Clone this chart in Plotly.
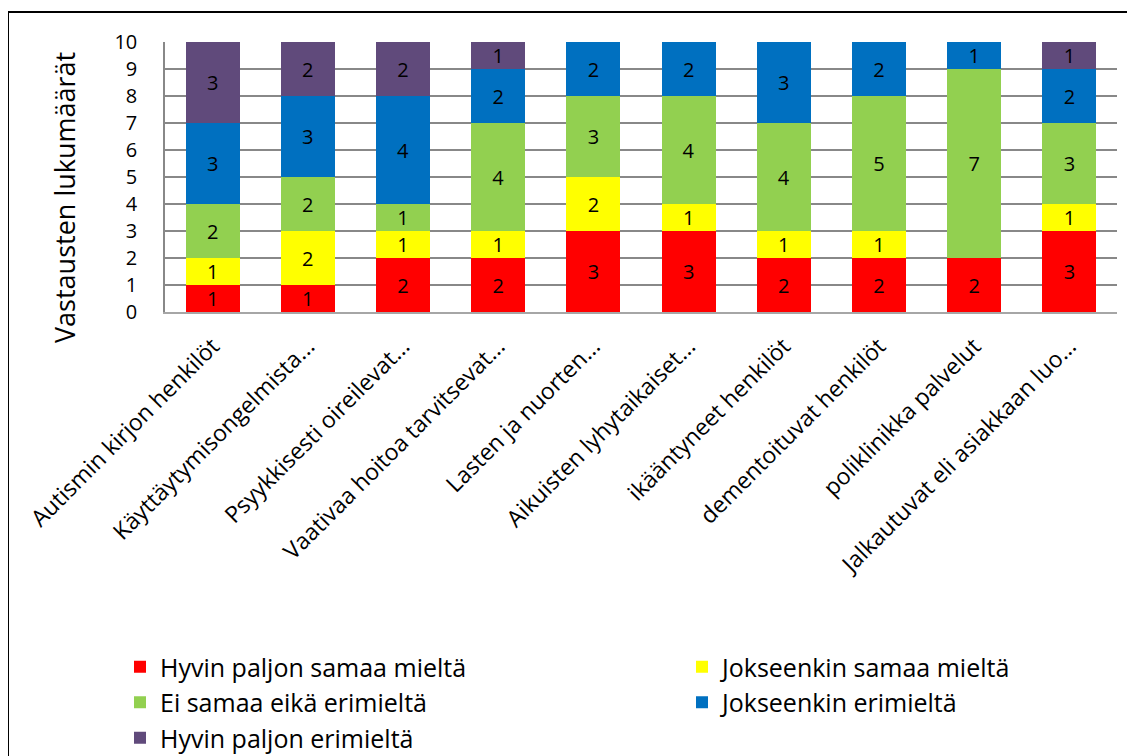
import plotly.graph_objects as go

categories = [
    "Autismin kirjon henkilöt",
    "Käyttäytymisongelmista...",
    "Psyykkisesti oireilevat...",
    "Vaativaa hoitoa tarvitsevat...",
    "Lasten ja nuorten...",
    "Aikuisten lyhytaikaiset...",
    "ikääntyneet henkilöt",
    "dementoituvat henkilöt",
    "poliklinikka palvelut",
    "Jalkautuvat eli asiakkaan luo...",
]

hyvin_samaa = [1, 1, 2, 2, 3, 3, 2, 2, 2, 3]
jokseenkin_samaa = [1, 2, 1, 1, 2, 1, 1, 1, 0, 1]
ei_samaa_eika_eri = [2, 2, 1, 4, 3, 4, 4, 5, 7, 3]
jokseenkin_eri = [3, 3, 4, 2, 2, 2, 3, 2, 1, 2]
hyvin_eri = [3, 2, 2, 1, 0, 0, 0, 0, 0, 1]

series = [
    ("Hyvin paljon samaa mieltä", hyvin_samaa, "#FF0000", "legend"),
    ("Jokseenkin samaa mieltä", jokseenkin_samaa, "#FFFF00", "legend2"),
    ("Ei samaa eikä erimieltä", ei_samaa_eika_eri, "#92D050", "legend"),
    ("Jokseenkin erimieltä", jokseenkin_eri, "#0070C0", "legend2"),
    ("Hyvin paljon erimieltä", hyvin_eri, "#604A7B", "legend"),
]

y_ticks = list(range(0, 11))
y_title = "Vastausten lukumäärät"

FONT = "Open Sans, Calibri, sans-serif"

# the page body has an 8px margin; work in window pixels and shift
OFF = 8
W, H = 1135 - OFF, 756 - OFF
plot_left, plot_right, plot_top, plot_bottom = 165, 1117, 42, 312
L = plot_left - OFF
R = W - (plot_right - OFF)
T = plot_top - OFF
B = H - (plot_bottom - OFF)
PW, PH = plot_right - plot_left, plot_bottom - plot_top


def px_x(px):
    return (px - plot_left) / PW


def px_y(py):
    return 1 - (py - plot_top) / PH


fig = go.Figure()
for name, vals, color, leg in series:
    fig.add_trace(go.Bar(
        name=name,
        x=categories,
        y=vals,
        marker=dict(color=color, line=dict(width=0)),
        text=[str(v) if v else "" for v in vals],
        textposition="inside",
        insidetextanchor="middle",
        constraintext="none",
        textangle=0,
        textfont=dict(family=FONT, size=20, color="black"),
        legend=leg,
        hoverinfo="skip",
    ))

fig.update_layout(
    width=W,
    height=H,
    barmode="stack",
    bargap=0.433,
    paper_bgcolor="white",
    plot_bgcolor="white",
    margin=dict(l=L, r=R, t=T, b=B, autoexpand=False),
    font=dict(family=FONT, color="black"),
    xaxis=dict(
        tickangle=-45,
        tickfont=dict(family=FONT, size=23, color="black"),
        showgrid=False,
        showline=True,
        linecolor="#A6A6A6",
        linewidth=1.5,
        ticks="",
        ticklabelstandoff=10,
    ),
    yaxis=dict(
        range=[0, 10],
        tickvals=y_ticks,
        tickfont=dict(family=FONT, size=20, color="black"),
        showgrid=True,
        gridcolor="#888888",
        gridwidth=1.5,
        showline=True,
        linecolor="#888888",
        linewidth=1.5,
        ticks="",
        ticklabelstandoff=22,
        zeroline=False,
    ),
    legend=dict(
        x=px_x(120), y=px_y(644), xanchor="left", yanchor="top",
        orientation="v", traceorder="normal",
        font=dict(family=FONT, size=25, color="black"),
        bgcolor="rgba(0,0,0,0)",
    ),
    legend2=dict(
        x=px_x(682), y=px_y(644), xanchor="left", yanchor="top",
        orientation="v", traceorder="normal",
        font=dict(family=FONT, size=25, color="black"),
        bgcolor="rgba(0,0,0,0)",
    ),
    annotations=[dict(
        text=y_title,
        xref="paper", yref="paper",
        x=px_x(65), y=px_y(198),
        xanchor="center", yanchor="middle",
        textangle=-90,
        showarrow=False,
        font=dict(family=FONT, size=27, color="black"),
    )],
    shapes=[dict(
        type="rect",
        xref="paper", yref="paper",
        x0=px_x(8), x1=px_x(1160),
        y0=px_y(12), y1=px_y(790),
        line=dict(color="black", width=2),
        fillcolor="rgba(0,0,0,0)",
        layer="above",
    )],
)

fig.write_html("out.html")
